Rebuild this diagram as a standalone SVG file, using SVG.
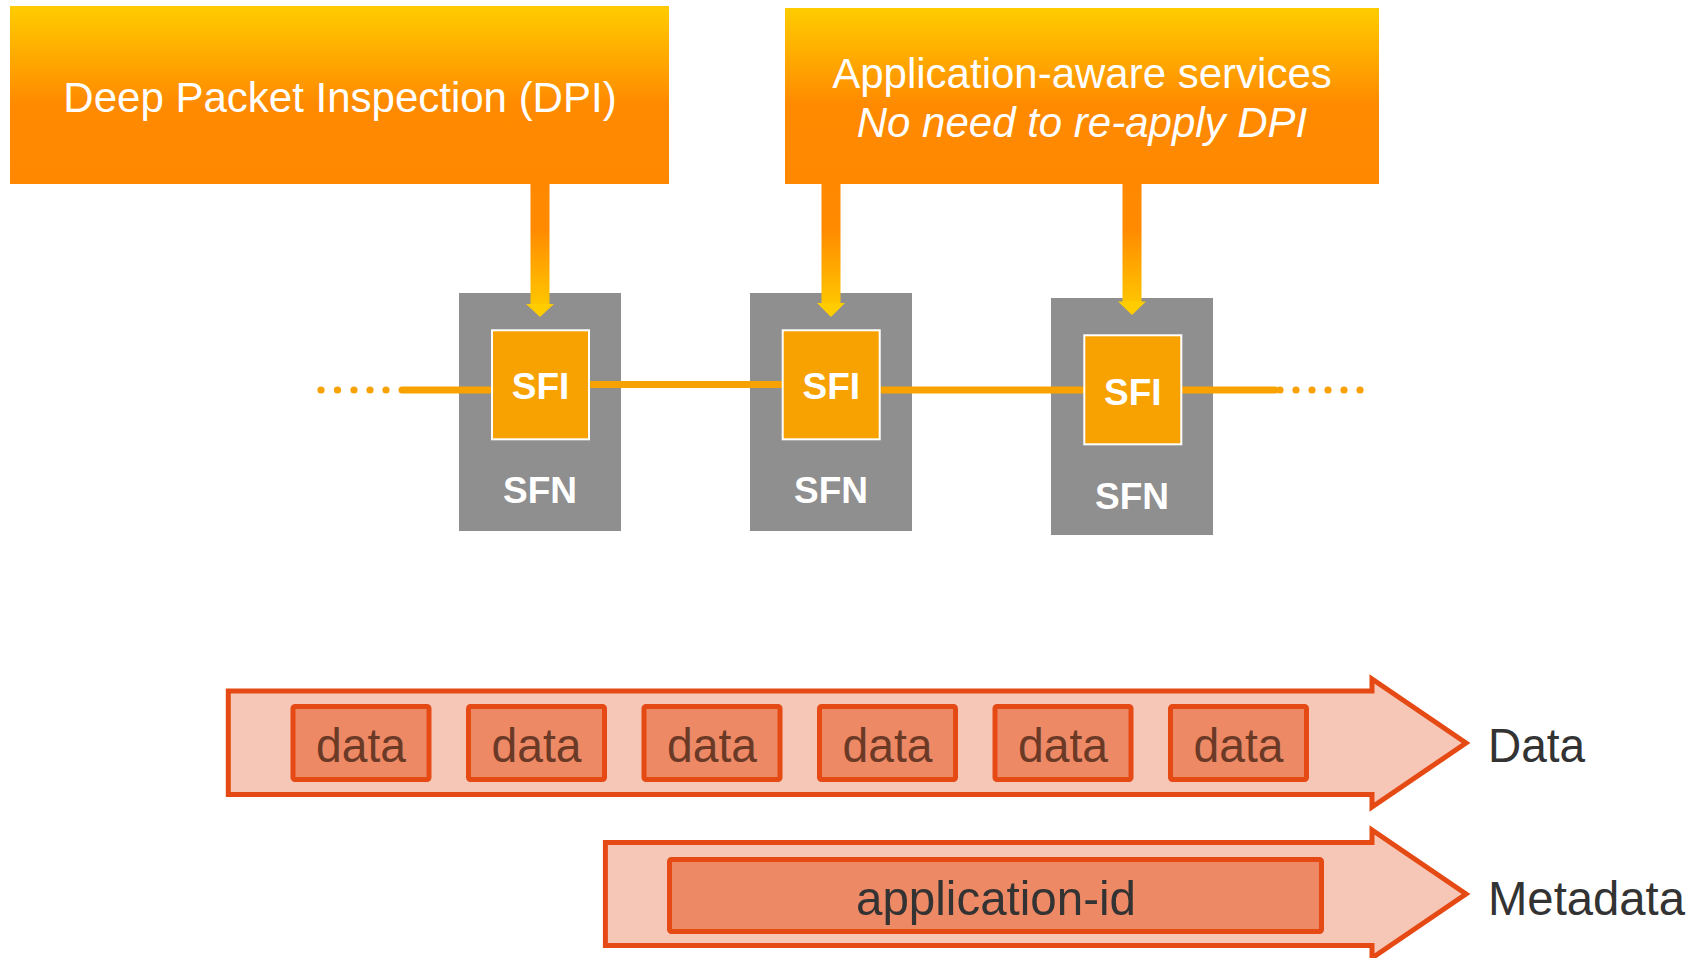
<svg xmlns="http://www.w3.org/2000/svg" width="1701" height="958" viewBox="0 0 1701 958">
<defs>
<linearGradient id="boxGrad" x1="0" y1="0" x2="0" y2="1">
<stop offset="0" stop-color="#FFCC00"/>
<stop offset="0.55" stop-color="#FF8A00"/>
<stop offset="1" stop-color="#FF8800"/>
</linearGradient>
<linearGradient id="shaftGrad" gradientUnits="userSpaceOnUse" x1="0" y1="184" x2="0" y2="312">
<stop offset="0" stop-color="#FF8800"/>
<stop offset="0.35" stop-color="#FF8A00"/>
<stop offset="1" stop-color="#FFCC00"/>
</linearGradient>
<style>
.title{font-family:"Liberation Sans",Arial,sans-serif;font-size:42px;fill:#FFFFFF;text-anchor:middle}
.sfn{fill:#8F8F8F}
.sfi{fill:#F7A200;stroke:#FFFFFF;stroke-width:2}
.bold{font-family:"Liberation Sans",Arial,sans-serif;font-weight:bold;font-size:37px;fill:#FFFFFF;text-anchor:middle}
.link{stroke:#F7A200;stroke-width:7;stroke-linecap:round;fill:none}
.dot{fill:#F7A200}
.band{fill:#F6C6B6;stroke:#E64A14;stroke-width:5}
.pkt{fill:#EE8966;stroke:#E64A14;stroke-width:5}
.pt{font-family:"Liberation Sans",Arial,sans-serif;font-size:49px;fill:#6B3A26;text-anchor:middle}
.lbl{font-family:"Liberation Sans",Arial,sans-serif;font-size:48px;fill:#333333}
.shaft{fill:url(#shaftGrad)}
.head{fill:#FFCC00}
</style>
</defs>

<g id="dpi">
<rect x="10" y="6" width="659" height="178" fill="url(#boxGrad)"/>
<text class="title" x="340" y="112">Deep Packet Inspection (DPI)</text>
</g>

<g id="app-services">
<rect x="785" y="8" width="594" height="176" fill="url(#boxGrad)"/>
<text class="title" x="1082" y="88">Application-aware services</text>
<text class="title" x="1082" y="137" font-style="italic">No need to re-apply DPI</text>
</g>

<g id="sfn1">
<rect class="sfn" x="459" y="293" width="162" height="238"/>
<text class="bold" x="540" y="503">SFN</text>
</g>
<g id="sfn2">
<rect class="sfn" x="750" y="293" width="162" height="238"/>
<text class="bold" x="831" y="503">SFN</text>
</g>
<g id="sfn3">
<rect class="sfn" x="1051" y="298" width="162" height="237"/>
<text class="bold" x="1132" y="509">SFN</text>
</g>

<g id="connectors">
<line class="link" x1="402" y1="390" x2="492" y2="390"/>
<line class="link" x1="589" y1="384.5" x2="783" y2="384.5"/>
<line class="link" x1="881" y1="390" x2="1084" y2="390"/>
<line class="link" x1="1181" y1="390" x2="1275" y2="390"/>
<circle class="dot" cx="321" cy="390" r="3.6"/>
<circle class="dot" cx="337.5" cy="390" r="3.6"/>
<circle class="dot" cx="354" cy="390" r="3.6"/>
<circle class="dot" cx="370" cy="390" r="3.6"/>
<circle class="dot" cx="386" cy="390" r="3.6"/>
<circle class="dot" cx="1280" cy="390" r="3.6"/>
<circle class="dot" cx="1296" cy="390" r="3.6"/>
<circle class="dot" cx="1312" cy="390" r="3.6"/>
<circle class="dot" cx="1328" cy="390" r="3.6"/>
<circle class="dot" cx="1344" cy="390" r="3.6"/>
<circle class="dot" cx="1360" cy="390" r="3.6"/>
<rect class="shaft" x="530.5" y="184" width="19" height="121"/>
<polygon class="head" points="526,304 554,304 540,317"/>
<rect class="shaft" x="821.5" y="184" width="19" height="120"/>
<polygon class="head" points="817,303 845,303 831,317"/>
<rect class="shaft" x="1122.5" y="184" width="19" height="118"/>
<polygon class="head" points="1118,301.5 1146,301.5 1132,315"/>
</g>

<g id="sfi1">
<rect class="sfi" x="492" y="330.3" width="97" height="109"/>
<text class="bold" x="540.5" y="399">SFI</text>
</g>
<g id="sfi2">
<rect class="sfi" x="782.7" y="330.3" width="97" height="109"/>
<text class="bold" x="831.3" y="399">SFI</text>
</g>
<g id="sfi3">
<rect class="sfi" x="1084.3" y="335.3" width="97" height="109"/>
<text class="bold" x="1132.8" y="405">SFI</text>
</g>

<g id="data-stream">
<polygon class="band" points="228.3,691 1372,691 1372,679 1466,743 1372,807 1372,794.5 228.3,794.5"/>
<rect class="pkt" x="293" y="706.5" width="136" height="73" rx="2"/>
<text class="pt" x="361" y="762" textLength="90" lengthAdjust="spacingAndGlyphs">data</text>
<rect class="pkt" x="468.5" y="706.5" width="136" height="73" rx="2"/>
<text class="pt" x="536.5" y="762" textLength="90" lengthAdjust="spacingAndGlyphs">data</text>
<rect class="pkt" x="644" y="706.5" width="136" height="73" rx="2"/>
<text class="pt" x="712" y="762" textLength="90" lengthAdjust="spacingAndGlyphs">data</text>
<rect class="pkt" x="819.5" y="706.5" width="136" height="73" rx="2"/>
<text class="pt" x="887.5" y="762" textLength="90" lengthAdjust="spacingAndGlyphs">data</text>
<rect class="pkt" x="995" y="706.5" width="136" height="73" rx="2"/>
<text class="pt" x="1063" y="762" textLength="90" lengthAdjust="spacingAndGlyphs">data</text>
<rect class="pkt" x="1170.5" y="706.5" width="136" height="73" rx="2"/>
<text class="pt" x="1238.5" y="762" textLength="90" lengthAdjust="spacingAndGlyphs">data</text>
<text class="lbl" x="1488" y="762" textLength="97" lengthAdjust="spacingAndGlyphs">Data</text>
</g>

<g id="metadata-stream">
<polygon class="band" points="605.4,842.5 1372,842.5 1372,830 1466,894 1372,958 1372,945.5 605.4,945.5"/>
<rect class="pkt" x="669.5" y="859.5" width="652" height="72" rx="2"/>
<text class="pt" x="996" y="915" style="fill:#333333" textLength="280" lengthAdjust="spacingAndGlyphs">application-id</text>
<text class="lbl" x="1488" y="915" textLength="197" lengthAdjust="spacingAndGlyphs">Metadata</text>
</g>
</svg>
